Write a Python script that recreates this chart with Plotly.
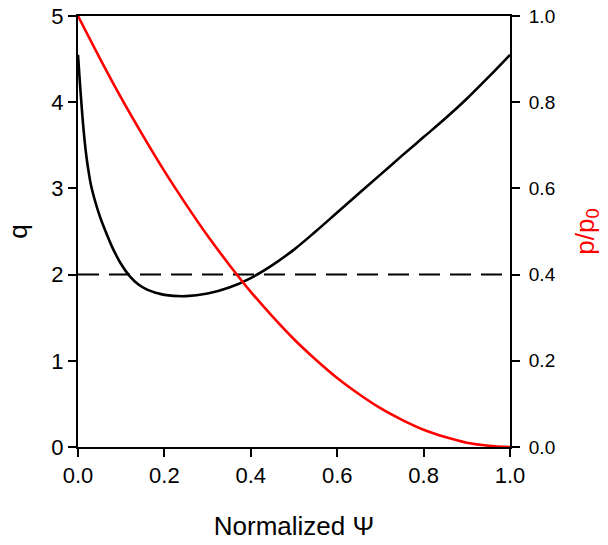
import plotly.graph_objects as go

# Normalized Psi grid and q values
q_x = [0.0, 0.005, 0.01, 0.015, 0.02, 0.025, 0.03, 0.04, 0.05, 0.06, 0.08, 0.10, 0.12,
       0.14, 0.16, 0.18, 0.20, 0.25, 0.30, 0.35, 0.40, 0.45, 0.50, 0.55, 0.60, 0.65,
       0.70, 0.75, 0.80, 0.85, 0.90, 0.95, 1.0]
q_y = [4.55, 4.18, 3.85, 3.57, 3.35, 3.18, 3.04, 2.845, 2.685, 2.55, 2.31, 2.12, 1.98,
       1.885, 1.825, 1.79, 1.765, 1.75, 1.78, 1.85, 1.96, 2.11, 2.29, 2.50, 2.72, 2.94,
       3.16, 3.38, 3.595, 3.81, 4.04, 4.29, 4.55]

# Normalized Psi grid and p/p0 values
p_x = [0.0, 0.05, 0.10, 0.15, 0.20, 0.25, 0.30, 0.35, 0.40, 0.45, 0.50, 0.55, 0.60,
       0.65, 0.70, 0.75, 0.80, 0.85, 0.90, 0.95, 1.0]
p_y = [1.0, 0.903, 0.81, 0.723, 0.64, 0.563, 0.49, 0.423, 0.36, 0.303, 0.25, 0.203, 0.16,
       0.123, 0.09, 0.063, 0.04, 0.023, 0.01, 0.003, 0.0]

ref_x = [0.0, 1.0]
ref_q = [2.0, 2.0]

x_ticks = [0.0, 0.2, 0.4, 0.6, 0.8, 1.0]
q_ticks = [0, 1, 2, 3, 4, 5]
p_ticks = [0.0, 0.2, 0.4, 0.6, 0.8, 1.0]

FONT = "Liberation Sans, Arial, sans-serif"

fig = go.Figure()
fig.add_trace(go.Scatter(x=ref_x, y=ref_q, mode="lines",
                         line=dict(color="black", width=2, dash="21px,10px"),
                         showlegend=False, hoverinfo="skip"))
fig.add_trace(go.Scatter(x=q_x, y=q_y, mode="lines",
                         line=dict(color="black", width=2.6, shape="spline", smoothing=1.0),
                         showlegend=False))
fig.add_trace(go.Scatter(x=p_x, y=p_y, mode="lines", yaxis="y2",
                         line=dict(color="#ff0000", width=2.6, shape="spline", smoothing=1.0),
                         showlegend=False))

axis_common = dict(showgrid=False, zeroline=False, showline=True, linecolor="black",
                   linewidth=2, ticks="outside", ticklen=8, tickwidth=2, tickcolor="black",
                   automargin=False)

fig.update_layout(
    width=608, height=545,
    margin=dict(l=78, r=98, t=16, b=98),
    plot_bgcolor="white", paper_bgcolor="white",
    font=dict(family=FONT, color="black"),
    xaxis=dict(range=[0, 1], tickvals=x_ticks, ticktext=[f"{v:.1f}" for v in x_ticks],
               tickfont=dict(size=22), mirror=True,
               title=dict(text="Normalized Ψ", font=dict(size=26), standoff=29),
               **axis_common),
    yaxis=dict(range=[0, 5], tickvals=q_ticks, ticktext=[str(v) for v in q_ticks],
               tickfont=dict(size=22),
               title=dict(text="q", font=dict(size=26), standoff=16),
               **axis_common),
    yaxis2=dict(range=[0, 1], overlaying="y", side="right", tickvals=p_ticks,
                ticktext=[f"{v:.1f}" for v in p_ticks], tickfont=dict(size=19),
                ticklabelstandoff=5,
                title=dict(text="p/p<sub>0</sub>", font=dict(size=26, color="#ff0000"), standoff=21),
                **axis_common),
)

fig.write_html("out.html")
